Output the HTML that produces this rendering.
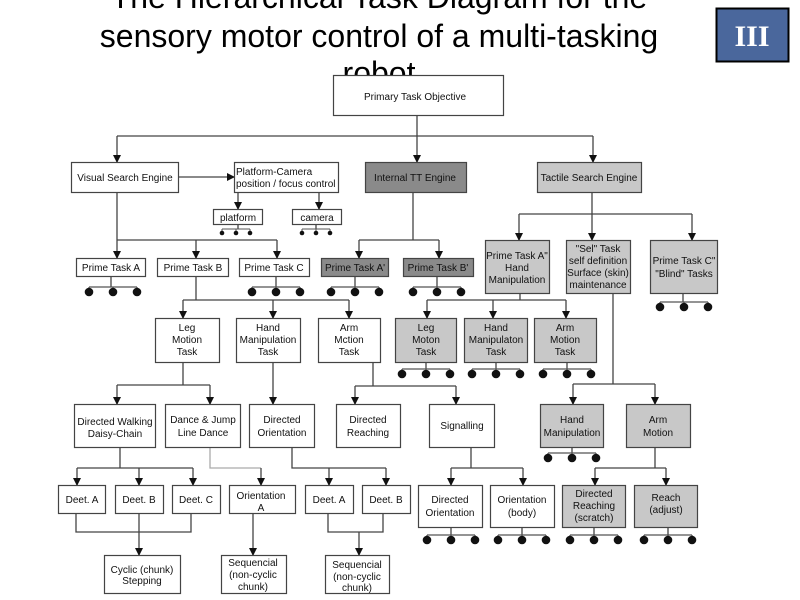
<!DOCTYPE html>
<html><head><meta charset="utf-8"><style>
html,body{margin:0;padding:0;background:#fff;}
svg{display:block;}
text{font-family:"Liberation Sans",Arial,sans-serif;}
</style></head><body>
<svg width="800" height="600" viewBox="0 0 800 600" xmlns="http://www.w3.org/2000/svg">
<defs>
<marker id="a" markerWidth="8" markerHeight="8" refX="7" refY="4" orient="auto" markerUnits="userSpaceOnUse" viewBox="0 0 8 8">
<path d="M0,0 L8,4 L0,8 Z" fill="#111"/></marker>
<g id="d3" stroke="#555" stroke-width="1.3" fill="#111">
<path d="M-24,-5 H24 M-24,-5 V0 M0,-5 V0 M24,-5 V0" fill="none"/>
<circle cx="-24" cy="0" r="4.3" stroke="none"/><circle cx="0" cy="0" r="4.3" stroke="none"/><circle cx="24" cy="0" r="4.3" stroke="none"/>
</g>
<g id="s3" stroke="#555" stroke-width="1" fill="#111">
<path d="M-14,-4 H14 M-14,-4 V0 M0,-4 V0 M14,-4 V0" fill="none"/>
<circle cx="-14" cy="0" r="2.3" stroke="none"/><circle cx="0" cy="0" r="2.3" stroke="none"/><circle cx="14" cy="0" r="2.3" stroke="none"/>
</g>
</defs>

<!-- Title -->
<g font-size="32" fill="#000" text-anchor="middle">
<text x="379" y="8">The Hierarchical Task Diagram for the</text>
<text x="379" y="47">sensory motor control of a multi-tasking</text>
<text x="379" y="84">robot</text>
</g>
<rect x="716.5" y="8.5" width="72" height="53" fill="#4a679c" stroke="#000" stroke-width="2"/>
<text x="752" y="46" font-size="30" font-weight="bold" fill="#fff" text-anchor="middle" style="font-family:'Liberation Serif',serif">III</text>

<!-- connectors -->
<g stroke="#444" stroke-width="1.3" fill="none">
<path d="M417,115 V162" marker-end="url(#a)"/>
<path d="M117,136 H593"/>
<path d="M117,136 V162" marker-end="url(#a)"/>
<path d="M593,136 V162" marker-end="url(#a)"/>
<path d="M178,177 H234" marker-end="url(#a)"/>
<path d="M238,192 V209" marker-end="url(#a)"/>
<path d="M319,192 V209" marker-end="url(#a)"/>
<path d="M117,192 V240 M117,240 H277"/>
<path d="M117,240 V258" marker-end="url(#a)"/>
<path d="M196,240 V258" marker-end="url(#a)"/>
<path d="M277,240 V258" marker-end="url(#a)"/>
<path d="M413,192 V240 M359,240 H439"/>
<path d="M359,240 V258" marker-end="url(#a)"/>
<path d="M439,240 V258" marker-end="url(#a)"/>
<path d="M592,192 V214 M519,214 H692"/>
<path d="M519,214 V240" marker-end="url(#a)"/>
<path d="M592,214 V240" marker-end="url(#a)"/>
<path d="M692,214 V240" marker-end="url(#a)"/>
<path d="M196,276 V300 M183,300 H349"/>
<path d="M183,300 V318" marker-end="url(#a)"/>
<path d="M273,300 V318" marker-end="url(#a)"/>
<path d="M349,300 V318" marker-end="url(#a)"/>
<path d="M520,293 V300 M427,300 H566"/>
<path d="M427,300 V318" marker-end="url(#a)"/>
<path d="M493,300 V318" marker-end="url(#a)"/>
<path d="M566,300 V318" marker-end="url(#a)"/>
<path d="M613,293 V384 M573,384 H655"/>
<path d="M573,384 V404" marker-end="url(#a)"/>
<path d="M655,384 V404" marker-end="url(#a)"/>
<path d="M683,293 V302"/>
<path d="M183,362 V385 M117,385 H210"/>
<path d="M117,385 V404" marker-end="url(#a)"/>
<path d="M210,385 V404" marker-end="url(#a)"/>
<path d="M273,362 V404" marker-end="url(#a)"/>
<path d="M373,362 V386 M355,386 H456"/>
<path d="M355,386 V404" marker-end="url(#a)"/>
<path d="M456,386 V404" marker-end="url(#a)"/>
<path d="M120,447 V468 M77,468 H193"/>
<path d="M77,468 V485" marker-end="url(#a)"/>
<path d="M139,468 V485" marker-end="url(#a)"/>
<path d="M193,468 V485" marker-end="url(#a)"/>
<path d="M210,447 V468 H261" stroke="#aaa"/>
<path d="M261,468 V485" marker-end="url(#a)"/>
<path d="M292,447 V468 H386"/>
<path d="M329,468 V485" marker-end="url(#a)"/>
<path d="M386,468 V485" marker-end="url(#a)"/>
<path d="M76,513 V532 H191 V513"/>
<path d="M139,513 V555" marker-end="url(#a)"/>
<path d="M253,513 V555" marker-end="url(#a)"/>
<path d="M328,513 V532 H383 V513"/>
<path d="M359,532 V555" marker-end="url(#a)"/>
<path d="M471,447 V468 M451,468 H523"/>
<path d="M451,468 V485" marker-end="url(#a)"/>
<path d="M523,468 V485" marker-end="url(#a)"/>
<path d="M655,447 V468 M595,468 H666"/>
<path d="M595,468 V485" marker-end="url(#a)"/>
<path d="M666,468 V485" marker-end="url(#a)"/>
<!-- stems to dot groups -->
<path d="M238,224 V229 M316,224 V229"/>
<path d="M111,276 V287 M276,276 V287 M355,276 V287 M437,276 V287"/>
<path d="M426,362 V369 M496,362 V369 M567,362 V369"/>
<path d="M572,447 V453"/>
<path d="M451,527 V535 M522,527 V535 M594,527 V535 M668,527 V535"/>
</g>

<!-- dot groups -->
<use href="#s3" x="236" y="233"/><use href="#s3" x="316" y="233"/>
<use href="#d3" x="113" y="292"/><use href="#d3" x="276" y="292"/><use href="#d3" x="355" y="292"/><use href="#d3" x="437" y="292"/>
<use href="#d3" x="684" y="307"/>
<use href="#d3" x="426" y="374"/><use href="#d3" x="496" y="374"/><use href="#d3" x="567" y="374"/>
<use href="#d3" x="572" y="458"/>
<use href="#d3" x="451" y="540"/><use href="#d3" x="522" y="540"/><use href="#d3" x="594" y="540"/><use href="#d3" x="668" y="540"/>

<!-- boxes -->
<g stroke="#444" stroke-width="1.2">
<rect x="333.5" y="75.5" width="170" height="40" fill="#fff"/>
<rect x="71.5" y="162.5" width="107" height="30" fill="#fff"/>
<rect x="234.5" y="162.5" width="104" height="30" fill="#fff"/>
<rect x="213.5" y="209.5" width="49" height="15" fill="#fff"/>
<rect x="292.5" y="209.5" width="49" height="15" fill="#fff"/>
<rect x="365.5" y="162.5" width="101" height="30" fill="#8a8a8a"/>
<rect x="537.5" y="162.5" width="104" height="30" fill="#c8c8c8"/>
<rect x="76.5" y="258.5" width="69" height="18" fill="#fff"/>
<rect x="157.5" y="258.5" width="71" height="18" fill="#fff"/>
<rect x="239.5" y="258.5" width="70" height="18" fill="#fff"/>
<rect x="321.5" y="258.5" width="67" height="18" fill="#8a8a8a"/>
<rect x="403.5" y="258.5" width="70" height="18" fill="#8a8a8a"/>
<rect x="485.5" y="240.5" width="64" height="53" fill="#c8c8c8"/>
<rect x="566.5" y="240.5" width="64" height="53" fill="#c8c8c8"/>
<rect x="650.5" y="240.5" width="67" height="53" fill="#c8c8c8"/>
<rect x="155.5" y="318.5" width="64" height="44" fill="#fff"/>
<rect x="236.5" y="318.5" width="64" height="44" fill="#fff"/>
<rect x="318.5" y="318.5" width="62" height="44" fill="#fff"/>
<rect x="395.5" y="318.5" width="61" height="44" fill="#c8c8c8"/>
<rect x="464.5" y="318.5" width="63" height="44" fill="#c8c8c8"/>
<rect x="534.5" y="318.5" width="62" height="44" fill="#c8c8c8"/>
<rect x="74.5" y="404.5" width="81" height="43" fill="#fff"/>
<rect x="165.5" y="404.5" width="75" height="43" fill="#fff"/>
<rect x="249.5" y="404.5" width="65" height="43" fill="#fff"/>
<rect x="336.5" y="404.5" width="64" height="43" fill="#fff"/>
<rect x="429.5" y="404.5" width="65" height="43" fill="#fff"/>
<rect x="540.5" y="404.5" width="63" height="43" fill="#c8c8c8"/>
<rect x="626.5" y="404.5" width="64" height="43" fill="#c8c8c8"/>
<rect x="58.5" y="485.5" width="47" height="28" fill="#fff"/>
<rect x="115.5" y="485.5" width="48" height="28" fill="#fff"/>
<rect x="172.5" y="485.5" width="48" height="28" fill="#fff"/>
<rect x="229.5" y="485.5" width="66" height="28" fill="#fff"/>
<rect x="305.5" y="485.5" width="48" height="28" fill="#fff"/>
<rect x="362.5" y="485.5" width="48" height="28" fill="#fff"/>
<rect x="418.5" y="485.5" width="64" height="42" fill="#fff"/>
<rect x="490.5" y="485.5" width="64" height="42" fill="#fff"/>
<rect x="562.5" y="485.5" width="63" height="42" fill="#c8c8c8"/>
<rect x="634.5" y="485.5" width="63" height="42" fill="#c8c8c8"/>
<rect x="104.5" y="555.5" width="76" height="38" fill="#fff"/>
<rect x="221.5" y="555.5" width="65" height="38" fill="#fff"/>
<rect x="325.5" y="555.5" width="64" height="38" fill="#fff"/>
</g>

<!-- labels -->
<g font-size="10" fill="#111" text-anchor="middle">
<text x="415" y="100">Primary Task Objective</text>
<text x="125" y="181">Visual Search Engine</text>
<text x="236" y="175" text-anchor="start">Platform-Camera</text>
<text x="236" y="187" text-anchor="start">position / focus control</text>
<text x="238" y="221">platform</text>
<text x="317" y="221">camera</text>
<text x="415" y="181">Internal TT Engine</text>
<text x="589" y="181">Tactile Search Engine</text>
<text x="111" y="271">Prime Task A</text>
<text x="193" y="271">Prime Task B</text>
<text x="274" y="271">Prime Task C</text>
<text x="355" y="271">Prime Task A'</text>
<text x="438" y="271">Prime Task B'</text>
<text x="517" y="259">Prime Task A"</text>
<text x="517" y="271">Hand</text>
<text x="517" y="283">Manipulation</text>
<text x="598" y="252">"Sel" Task</text>
<text x="598" y="264">self definition</text>
<text x="598" y="276">Surface (skin)</text>
<text x="598" y="288">maintenance</text>
<text x="684" y="264">Prime Task C"</text>
<text x="684" y="277">"Blind" Tasks</text>
<text x="187" y="331">Leg</text><text x="187" y="343">Motion</text><text x="187" y="355">Task</text>
<text x="268" y="331">Hand</text><text x="268" y="343">Manipulation</text><text x="268" y="355">Task</text>
<text x="349" y="331">Arm</text><text x="349" y="343">Mction</text><text x="349" y="355">Task</text>
<text x="426" y="331">Leg</text><text x="426" y="343">Moton</text><text x="426" y="355">Task</text>
<text x="496" y="331">Hand</text><text x="496" y="343">Manipulaton</text><text x="496" y="355">Task</text>
<text x="565" y="331">Arm</text><text x="565" y="343">Motion</text><text x="565" y="355">Task</text>
<text x="115" y="425">Directed Walking</text><text x="115" y="437">Daisy-Chain</text>
<text x="203" y="423">Dance &amp; Jump</text><text x="203" y="436">Line Dance</text>
<text x="282" y="423">Directed</text><text x="282" y="436">Orientation</text>
<text x="368" y="423">Directed</text><text x="368" y="436">Reaching</text>
<text x="462" y="429">Signalling</text>
<text x="572" y="423">Hand</text><text x="572" y="436">Manipulation</text>
<text x="658" y="423">Arm</text><text x="658" y="436">Motion</text>
<text x="82" y="503">Deet. A</text>
<text x="139" y="503">Deet. B</text>
<text x="196" y="503">Deet. C</text>
<text x="261" y="499">Orientation</text><text x="261" y="511">A</text>
<text x="329" y="503">Deet. A</text>
<text x="386" y="503">Deet. B</text>
<text x="450" y="503">Directed</text><text x="450" y="516">Orientation</text>
<text x="522" y="503">Orientation</text><text x="522" y="516">(body)</text>
<text x="594" y="497">Directed</text><text x="594" y="509">Reaching</text><text x="594" y="521">(scratch)</text>
<text x="666" y="501">Reach</text><text x="666" y="513">(adjust)</text>
<text x="142" y="573">Cyclic (chunk)</text><text x="142" y="584">Stepping</text>
<text x="253" y="566">Sequencial</text><text x="253" y="578">(non-cyclic</text><text x="253" y="590">chunk)</text>
<text x="357" y="568">Sequencial</text><text x="357" y="580">(non-cyclic</text><text x="357" y="591">chunk)</text>
</g>
</svg>
</body></html>
